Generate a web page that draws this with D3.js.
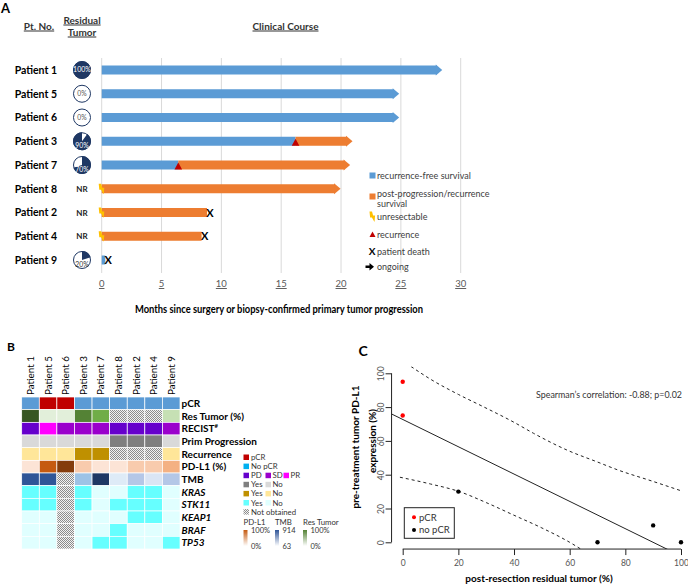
<!DOCTYPE html>
<html><head><meta charset="utf-8">
<script src="https://cdn.jsdelivr.net/npm/d3@7"></script>
<style>body{margin:0;background:#fff}svg{display:block}text{font-family:Lato,"Open Sans",sans-serif}</style>
</head><body>
<script>
// ---------- DATA ----------
const patients = ["Patient 1","Patient 5","Patient 6","Patient 3","Patient 7","Patient 8","Patient 2","Patient 4","Patient 9"];
const residualTumor = [100,0,0,90,70,null,null,null,20];          // null = NR
const rfsMonths = [28.0,24.4,24.4,16.2,6.4,0,0,0,0.3];            // recurrence-free part
const totalMonths = [28.0,24.4,24.4,20.5,20.3,19.5,8.8,8.35,0.3];  // end of bar
const ongoing = [1,1,1,1,1,1,0,0,0];
const death = [0,0,0,0,0,0,1,1,1];
const recurrence = [0,0,0,1,1,0,0,0,0];
const unresectable = [0,0,0,0,0,1,1,1,0];
const monthTicks = [0,5,10,15,20,25,30];

const heatRows = ["pCR","Res Tumor (%)","RECIST#","Prim Progression","Recurrence","PD-L1 (%)","TMB","KRAS","STK11","KEAP1","BRAF","TP53"];
const pcr = ["No","pCR","pCR","No","No","No","No","No","No"];
const resTumorPct = [100,0,0,90,70,null,null,null,20];
const recist = ["PD","PR","SD","SD","SD","PD","PD","PD","SD"];
const primProgression = ["No","No","No","No","No","Yes","Yes","Yes","No"];
const recurrenceStatus = ["No","No","No","Yes","Yes",null,null,null,"No"];
const pdl1Pct = [0,75,95,10,0,0,10,10,30];
const tmb = [600,600,null,250,914,63,200,90,200];
const KRAS = ["Yes","Yes",null,"Yes","No","No","Yes","Yes","No"];
const STK11 = ["Yes","Yes",null,"Yes","No","Yes","Yes","Yes","No"];
const KEAP1 = ["No","No",null,"No","No","No","Yes","Yes","No"];
const BRAF = ["No","No",null,"No","No","Yes","No","No","No"];
const TP53 = ["No","No",null,"No","Yes","Yes","No","No","Yes"];

const scatterResidual = [0,0,20,70,90,100];
const scatterPDL1 = [95,75,30,0,10,0];
const scatterGroup = ["pCR","pCR","no pCR","no pCR","no pCR","no pCR"];
const fitIntercept = 72.7, fitSlope = -0.808;
const ciUpperX = [3,10,20,29,40,47,59,70,77,90,100];
const ciUpperY = [104,96.5,87.5,80.2,71,64.5,54.6,47.5,43,36,30.5];
const ciLowerX = [-1,10,20,30,40,50,60,64];
const ciLowerY = [38.5,34.5,30.2,23.5,16,8.5,0,-4];
const cTicks = [0,20,40,60,80,100];
const spearmanLabel = "Spearman\u2019s correlation: -0.88; p=0.02";

// ---------- SVG ----------
const svg = d3.select("body").append("svg").attr("width",688).attr("height",584);
const defs = svg.append("defs");
const pat = defs.append("pattern").attr("id","chk").attr("width",2).attr("height",2).attr("patternUnits","userSpaceOnUse");
pat.append("rect").attr("width",2).attr("height",2).attr("fill","#f2f2f2");
pat.append("rect").attr("width",1).attr("height",1).attr("fill","#8c8c8c");
pat.append("rect").attr("x",1).attr("y",1).attr("width",1).attr("height",1).attr("fill","#8c8c8c");

const BLUE="#5b9bd5", ORANGE="#ed7d31", NAVY="#1f3864", RED="#c00000", GOLD="#ffc000";

// ---------- PANEL A ----------
const A = svg.append("g");
A.append("text").attr("x",1).attr("y",13).text("A").attr("font-family","Liberation Sans, Arial").attr("font-weight","bold").attr("font-size",13);
A.append("text").attr("x",39).attr("y",29.5).attr("text-anchor","middle").attr("font-weight","bold").attr("font-size",10).attr("text-decoration","underline").attr("fill","#333").text("Pt. No.");
A.append("text").attr("x",82).attr("y",23.5).attr("text-anchor","middle").attr("font-weight","bold").attr("font-size",10).attr("text-decoration","underline").attr("fill","#333").text("Residual");
A.append("text").attr("x",82).attr("y",35.5).attr("text-anchor","middle").attr("font-weight","bold").attr("font-size",10).attr("text-decoration","underline").attr("fill","#333").text("Tumor");
A.append("text").attr("x",285.5).attr("y",29.5).attr("text-anchor","middle").attr("font-weight","bold").attr("font-size",10).attr("text-decoration","underline").attr("fill","#333").text("Clinical Course");

const xA = d3.scaleLinear().domain([0,30]).range([101.7,460.7]);
const yA = d3.scalePoint().domain(patients).range([70,260]);

A.selectAll(".grid").data(monthTicks).join("line")
  .attr("x1",d=>xA(d)).attr("x2",d=>xA(d)).attr("y1",58).attr("y2",273)
  .attr("stroke","#d9d9d9").attr("stroke-width",1);
A.selectAll(".tl").data(monthTicks).join("text")
  .attr("x",d=>xA(d)).attr("y",287).attr("text-anchor","middle").attr("font-size",9.5)
  .attr("fill","#595959").attr("text-decoration","underline").text(d=>d);
A.append("text").attr("x",279).attr("y",312.5).attr("text-anchor","middle").attr("font-weight","bold")
  .attr("font-size",10.5).attr("textLength",288).attr("lengthAdjust","spacingAndGlyphs")
  .text("Months since surgery or biopsy-confirmed primary tumor progression");

patients.forEach((p,i)=>{
  const y = yA(p);
  A.append("text").attr("x",57).attr("y",y+3.8).attr("text-anchor","end").attr("font-weight","bold").attr("font-size",10.5).text(p);
  const v = residualTumor[i];
  if (v===null) {
    A.append("text").attr("x",82).attr("y",y+3).attr("text-anchor","middle").attr("font-weight","bold").attr("font-size",8).attr("fill","#222").text("NR");
  } else {
    const r = 9;
    A.append("circle").attr("cx",82).attr("cy",y).attr("r",r-0.5).attr("fill","#fff").attr("stroke",NAVY).attr("stroke-width",1);
    if (v>0) {
      const st = v>=90 && v<100 ? (1-v/100)*2*Math.PI : 0;
      const arc = d3.arc().innerRadius(0).outerRadius(r).startAngle(st).endAngle(st + v/100*2*Math.PI);
      A.append("path").attr("transform",`translate(82,${y})`).attr("d",arc()).attr("fill",NAVY);
    }
    const off = (v===0||v===100) ? 2.3 : 6.5;
    const col = v===0 ? "#595959" : (v>=50 ? "#fff" : "#333");
    A.append("text").attr("x",82).attr("y",y+off).attr("text-anchor","middle").attr("font-size",v===100?7:6.8).attr("fill",col).text(v+"%");
  }
  const bh = 9;
  const x0 = xA(0), xr = xA(rfsMonths[i]), xt = xA(totalMonths[i]);
  if (rfsMonths[i]>0) A.append("rect").attr("x",x0).attr("y",y-bh/2).attr("width",xr-x0).attr("height",bh).attr("fill",BLUE);
  if (totalMonths[i]>rfsMonths[i]) A.append("rect").attr("x",xr).attr("y",y-bh/2).attr("width",xt-xr).attr("height",bh).attr("fill",ORANGE);
  const endCol = totalMonths[i]>rfsMonths[i] ? ORANGE : BLUE;
  if (ongoing[i]) A.append("path").attr("d",`M${xt-1},${y-5.5}L${xt+5.5},${y}L${xt-1},${y+5.5}Z`).attr("fill",endCol);
  if (recurrence[i]) A.append("path").attr("d",`M${xr-3.8},${y+4.5}L${xr+3.8},${y+4.5}L${xr},${y-2.5}Z`).attr("fill",RED);
  if (death[i]) A.append("text").attr("x",xt+3).attr("y",y+4).attr("text-anchor","middle").attr("font-weight","bold").attr("font-size",11).text("X");
  if (unresectable[i]) A.append("path").attr("transform",`translate(${x0},${y})`)
    .attr("d","M-3,-5L-0.5,-5L0.6,-1L2.6,-1L2,5.5L-0.6,1L-2.4,1Z").attr("fill",GOLD);
});

// legend A
const lgA = A.append("g").attr("font-size",9).attr("fill","#404040");
const lx = 369.5, tx = 377;
lgA.append("rect").attr("x",lx).attr("y",172.5).attr("width",6).attr("height",6).attr("fill",BLUE);
lgA.append("text").attr("x",tx).attr("y",179).text("recurrence-free survival");
lgA.append("rect").attr("x",lx).attr("y",193.5).attr("width",6).attr("height",6).attr("fill",ORANGE);
lgA.append("text").attr("x",tx).attr("y",197).text("post-progression/recurrence");
lgA.append("text").attr("x",tx).attr("y",207).text("survival");
lgA.append("path").attr("transform",`translate(${lx+3},216.5)`).attr("d","M-3,-5L-0.5,-5L0.6,-1L2.6,-1L2,5.5L-0.6,1L-2.4,1Z").attr("fill",GOLD);
lgA.append("text").attr("x",tx).attr("y",220).text("unresectable");
lgA.append("path").attr("d",`M${lx},237L${lx+6},237L${lx+3},231.5Z`).attr("fill",RED);
lgA.append("text").attr("x",tx).attr("y",237.5).text("recurrence");
lgA.append("text").attr("x",lx+2.5).attr("y",255).attr("text-anchor","middle").attr("font-weight","bold").attr("font-size",10).attr("fill","#000").text("X");
lgA.append("text").attr("x",tx).attr("y",254.5).text("patient death");
lgA.append("path").attr("d",`M${lx-4},265.5L${lx},265.5L${lx},263L${lx+4.5},266.8L${lx},270.5L${lx},268L${lx-4},268Z`).attr("fill","#000");
lgA.append("text").attr("x",tx).attr("y",270).text("ongoing");

// ---------- PANEL B ----------
const B = svg.append("g");
B.append("text").attr("x",7).attr("y",351).text("B").attr("font-family","Liberation Sans, Arial").attr("font-weight","bold").attr("font-size",12);
const xB = d3.scaleBand().domain(patients).range([21.7,180]);
const yB = d3.scaleBand().domain(heatRows).range([397,549]);

const catCol = {
  "pCR": v=> v===null?"url(#chk)": (v==="pCR"?"#c00000":"#5b9bd5"),
  "RECIST#": v=> ({PD:"#6600cc",SD:"#9a00cc",PR:"#ff00ff"})[v],
  "Prim Progression": v=> v===null?"url(#chk)":(v==="Yes"?"#7f7f7f":"#d9d9d9"),
  "Recurrence": v=> v===null?"url(#chk)":(v==="Yes"?"#bf9000":"#ffe699"),
  "gene": v=> v===null?"url(#chk)":(v==="Yes"?"#66ffff":"#e0ffff")
};
const greenScale = d3.scaleLinear().domain([0,20,70,90,100]).range(["#e2efda","#c6e0b4","#70ad47","#548235","#375623"]);
const orangeScale = d3.scaleLinear().domain([0,10,30,75,95]).range(["#fce4d6","#f8cbad","#f4b183","#c55a11","#843c0c"]);
const blueScale = d3.scaleLinear().domain([63,90,200,250,600,914]).range(["#deebf7","#dae5f4","#b4c7e7","#9dc3e6","#2f5597","#1f3864"]);

const rowData = {
  "pCR": pcr.map(catCol["pCR"]),
  "Res Tumor (%)": resTumorPct.map(v=>v===null?"url(#chk)":greenScale(v)),
  "RECIST#": recist.map(catCol["RECIST#"]),
  "Prim Progression": primProgression.map(catCol["Prim Progression"]),
  "Recurrence": recurrenceStatus.map(catCol["Recurrence"]),
  "PD-L1 (%)": pdl1Pct.map(v=>v===null?"url(#chk)":orangeScale(v)),
  "TMB": tmb.map(v=>v===null?"url(#chk)":blueScale(v)),
  "KRAS": KRAS.map(catCol.gene), "STK11": STK11.map(catCol.gene), "KEAP1": KEAP1.map(catCol.gene),
  "BRAF": BRAF.map(catCol.gene), "TP53": TP53.map(catCol.gene)
};
heatRows.forEach(r=>{
  patients.forEach((p,i)=>{
    B.append("rect").attr("x",xB(p)).attr("y",yB(r)).attr("width",xB.bandwidth()).attr("height",yB.bandwidth())
      .attr("fill",rowData[r][i]).attr("stroke","#fff").attr("stroke-width",0.7);
  });
  const italic = ["KRAS","STK11","KEAP1","BRAF","TP53"].includes(r);
  const t = B.append("text").attr("x",181.5).attr("y",yB(r)+yB.bandwidth()/2+3.6).attr("font-weight","bold").attr("font-size",10)
    .attr("font-style",italic?"italic":"normal");
  if (r==="RECIST#") { t.text("RECIST"); t.append("tspan").attr("font-size",6).attr("dy",-4).text("#"); }
  else t.text(r);
});
patients.forEach(p=>{
  B.append("text").attr("transform",`translate(${xB(p)+xB.bandwidth()/2+3.5},395) rotate(-90)`).attr("font-size",9.8).text(p);
});

// legend B
const lgB = B.append("g").attr("font-size",7.8).attr("fill","#333");
const sq = (x,y,c)=>lgB.append("rect").attr("x",x).attr("y",y-5).attr("width",5.5).attr("height",5.5).attr("fill",c);
const lt = (x,y,s)=>lgB.append("text").attr("x",x).attr("y",y+0.5).text(s);
const ly0 = 459.5, ld = 9.1;
sq(243.5,ly0,"#c00000"); lt(251,ly0,"pCR");
sq(243.5,ly0+ld,"#00b0f0"); lt(251,ly0+ld,"No pCR");
sq(243.5,ly0+2*ld,"#6600cc"); lt(251,ly0+2*ld,"PD"); sq(265.5,ly0+2*ld,"#9a00cc"); lt(272.5,ly0+2*ld,"SD"); sq(283.5,ly0+2*ld,"#ff00ff"); lt(290.5,ly0+2*ld,"PR");
sq(243.5,ly0+3*ld,"#7f7f7f"); lt(251,ly0+3*ld,"Yes"); sq(265.5,ly0+3*ld,"#d9d9d9"); lt(272.5,ly0+3*ld,"No");
sq(243.5,ly0+4*ld,"#bf9000"); lt(251,ly0+4*ld,"Yes"); sq(265.5,ly0+4*ld,"#ffe699"); lt(272.5,ly0+4*ld,"No");
sq(243.5,ly0+5*ld,"#66ffff"); lt(251,ly0+5*ld,"Yes"); sq(265.5,ly0+5*ld,"#e0ffff"); lt(272.5,ly0+5*ld,"No");
sq(243.5,ly0+6*ld,"url(#chk)"); lt(251,ly0+6*ld,"Not obtained");
const grads = [["PD-L1","#c55a11",243.5,"100%","0%"],["TMB","#2f5597",275,"914","63"],["Res Tumor","#548235",303,"100%","0%"]];
grads.forEach((g,k)=>{
  const id="gr"+k;
  const lg = defs.append("linearGradient").attr("id",id).attr("x1",0).attr("x2",0).attr("y1",0).attr("y2",1);
  lg.append("stop").attr("offset","0%").attr("stop-color",g[1]);
  lg.append("stop").attr("offset","100%").attr("stop-color","#fff");
  lgB.append("text").attr("x",g[2]).attr("y",525).attr("font-size",7.8).text(g[0]);
  lgB.append("rect").attr("x",g[2]).attr("y",530).attr("width",4).attr("height",16).attr("fill",`url(#${id})`);
  lgB.append("text").attr("x",g[2]+7.5).attr("y",532.5).attr("font-size",7.5).text(g[3]);
  lgB.append("text").attr("x",g[2]+7.5).attr("y",549).attr("font-size",7.5).text(g[4]);
});

// ---------- PANEL C ----------
const C = svg.append("g");
C.append("text").attr("x",358.5).attr("y",356).text("C").attr("font-family","Liberation Sans, Arial").attr("font-weight","bold").attr("font-size",14);
const xC = d3.scaleLinear().domain([0,100]).range([402.7,681]);
const yC = d3.scaleLinear().domain([0,100]).range([542.3,373.3]);
const clip = defs.append("clipPath").attr("id","cp");
clip.append("rect").attr("x",xC(-4)).attr("y",yC(104)).attr("width",xC(104)-xC(-4)).attr("height",yC(-4)-yC(104));

const xAxisC = d3.axisBottom(xC).tickValues(cTicks).tickSize(6).tickPadding(5);
const yAxisC = d3.axisLeft(yC).tickValues(cTicks).tickSize(6).tickPadding(4);
const gx = C.append("g").attr("transform",`translate(0,${yC(-4)})`).call(xAxisC);
gx.select(".domain").attr("d",`M${xC(0)},0H${xC(100)}`);
gx.selectAll("text").attr("font-family","Liberation Sans, Arial").attr("font-size",8.5).attr("fill","#555");
const gy = C.append("g").attr("transform",`translate(${xC(-4)},0)`).call(yAxisC);
gy.select(".domain").attr("d",`M0,${yC(0)}V${yC(100)}`);
gy.selectAll("text").attr("font-family","Liberation Sans, Arial").attr("font-size",8.5).attr("fill","#555")
  .attr("text-anchor","middle").attr("x",-10).attr("y",0).attr("dy","0.32em").attr("transform","rotate(-90,-10,0)");
C.selectAll(".domain, .tick line").attr("stroke","#222");

const plot = C.append("g").attr("clip-path","url(#cp)");
plot.append("line").attr("x1",xC(-4)).attr("y1",yC(fitIntercept+fitSlope*-4)).attr("x2",xC(104)).attr("y2",yC(fitIntercept+fitSlope*104))
  .attr("stroke","#222").attr("stroke-width",1);
const ln = d3.line().curve(d3.curveMonotoneX).x(d=>xC(d[0])).y(d=>yC(d[1]));
plot.append("path").attr("d",ln(ciUpperX.map((x,i)=>[x,ciUpperY[i]]))).attr("fill","none").attr("stroke","#222").attr("stroke-dasharray","3,3");
plot.append("path").attr("d",ln(ciLowerX.map((x,i)=>[x,ciLowerY[i]]))).attr("fill","none").attr("stroke","#222").attr("stroke-dasharray","3,3");
scatterResidual.forEach((x,i)=>{
  C.append("circle").attr("cx",xC(x)).attr("cy",yC(scatterPDL1[i])).attr("r",2.2)
   .attr("fill",scatterGroup[i]==="pCR"?"#ff0000":"#000");
});
C.append("text").attr("x",536).attr("y",398).attr("font-size",8.8).attr("fill","#333")
  .attr("textLength",146).attr("lengthAdjust","spacingAndGlyphs").text(spearmanLabel);
C.append("rect").attr("x",404.3).attr("y",507.7).attr("width",50).attr("height",30.6).attr("fill","#fff").attr("stroke","#222");
C.append("circle").attr("cx",414).attr("cy",517.3).attr("r",2).attr("fill","#ff0000");
C.append("text").attr("x",419).attr("y",520.5).attr("font-size",9.5).attr("fill","#333").text("pCR");
C.append("circle").attr("cx",414).attr("cy",530).attr("r",2).attr("fill","#000");
C.append("text").attr("x",419).attr("y",533.2).attr("font-size",9.5).attr("fill","#333").text("no pCR");
C.append("text").attr("transform","translate(359,447) rotate(-90)").attr("text-anchor","middle").attr("font-weight","bold").attr("font-size",10).text("pre-treatment tumor PD-L1");
C.append("text").attr("transform","translate(375.5,441) rotate(-90)").attr("text-anchor","middle").attr("font-weight","bold").attr("font-size",10).text("expression (%)");
C.append("text").attr("x",539).attr("y",581.5).attr("text-anchor","middle").attr("font-weight","bold").attr("font-size",10).text("post-resection residual tumor (%)");
</script>
</body></html>
